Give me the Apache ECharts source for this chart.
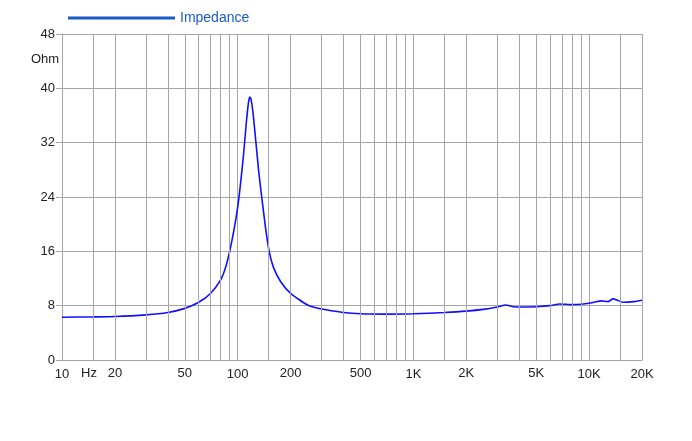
<!DOCTYPE html>
<html>
<head>
<meta charset="utf-8">
<script src="https://cdn.jsdelivr.net/npm/echarts@6/dist/echarts.min.js"></script>
<style>html,body{margin:0;padding:0;background:#fff}#c{width:692px;height:441px}</style>
</head>
<body>
<div id="c"></div>
<script>
const freqHz = [10, 15, 20, 30, 40, 50, 60, 70, 80, 85, 90, 95, 100, 104, 108, 112, 115, 117, 119, 122, 127, 132, 137, 144, 151, 160, 175, 200, 250, 300, 400, 500, 700, 1000, 1500, 2000, 2500, 3000, 3350, 3700, 4000, 5000, 6000, 6800, 8000, 9000, 10000, 11700, 12800, 13700, 14500, 15600, 18000, 20000];
const impedanceOhm = [6.3, 6.35, 6.4, 6.65, 7.0, 7.6, 8.5, 9.8, 11.8, 13.5, 16.0, 19.0, 22.5, 26.2, 30.3, 35.0, 37.8, 38.7, 38.4, 36.6, 32.0, 27.5, 24.0, 19.5, 16.0, 13.6, 11.6, 9.8, 8.1, 7.5, 7.0, 6.8, 6.75, 6.8, 7.0, 7.2, 7.45, 7.8, 8.1, 7.85, 7.8, 7.85, 8.0, 8.25, 8.15, 8.2, 8.35, 8.7, 8.6, 9.0, 8.8, 8.5, 8.6, 8.8];
const minorGridHz = [15, 20, 30, 40, 50, 60, 70, 80, 90, 150, 200, 300, 400, 500, 600, 700, 800, 900, 1500, 2000, 3000, 4000, 5000, 6000, 7000, 8000, 9000, 15000, 20000];
const labeledMinorHz = [20, 50, 200, 500, 2000, 5000];
const yTicks = [0, 8, 16, 24, 32, 40, 48];

function fmtHz(v) {
  v = Math.round(v);
  return v >= 1000 ? (v / 1000) + 'K' : String(v);
}
const GRID = '#a6a6a6';
const FONT = 'Liberation Sans, Arial, sans-serif';

const chart = echarts.init(document.getElementById('c'), null, {renderer: 'canvas'});
chart.setOption({
  animation: false,
  backgroundColor: '#fff',
  grid: {left: 62, right: 50, top: 34, bottom: 81, containLabel: false},
  legend: {
    left: 63, top: 6,
    icon: 'rect', itemWidth: 107, itemHeight: 3, itemGap: 6,
    data: [{name: 'Impedance', itemStyle: {color: '#1a5bc6'}}],
    textStyle: {color: '#1a5bc6', fontSize: 14, fontFamily: FONT, padding: [0, 0, 0, 0]}
  },
  xAxis: {
    type: 'log', logBase: 10, min: 10, max: 20000,
    axisLine: {show: true, lineStyle: {color: GRID}},
    axisTick: {show: false},
    splitLine: {show: true, lineStyle: {color: GRID, width: 1}},
    axisLabel: {color: '#222', fontSize: 13, fontFamily: FONT, margin: 8, formatter: fmtHz, showMaxLabel: true, showMinLabel: true}
  },
  yAxis: {
    type: 'value', min: yTicks[0], max: yTicks[yTicks.length - 1], interval: 8,
    axisLine: {show: true, lineStyle: {color: GRID}},
    axisTick: {show: true, length: 6, lineStyle: {color: GRID}},
    splitLine: {show: true, lineStyle: {color: GRID, width: 1}},
    axisLabel: {color: '#222', fontSize: 13, fontFamily: FONT, margin: 7}
  },
  graphic: [
    {type: 'text', left: 31, top: 53, style: {text: 'Ohm', fill: '#222', font: '13px ' + FONT}},
    {type: 'text', left: 81, top: 367, style: {text: 'Hz', fill: '#222', font: '13px ' + FONT}}
  ],
  series: [{
    name: 'Impedance',
    type: 'line',
    data: freqHz.map((f, i) => [f, impedanceOhm[i]]),
    showSymbol: false,
    smooth: 0.2,
    lineStyle: {color: '#1010ff', width: 1.6},
    itemStyle: {color: '#1010ff'},
    markLine: {
      silent: true, symbol: ['none', 'none'], animation: false,
      lineStyle: {color: GRID, width: 1, type: 'solid'},
      label: {show: false},
      emphasis: {disabled: true},
      data: minorGridHz.map(f => ({
        xAxis: f,
        label: labeledMinorHz.indexOf(f) >= 0 ? {
          show: true, position: 'start', distance: 7, formatter: fmtHz(f),
          color: '#222', fontSize: 13, fontFamily: FONT
        } : {show: false}
      }))
    }
  }]
});
</script>
</body>
</html>
